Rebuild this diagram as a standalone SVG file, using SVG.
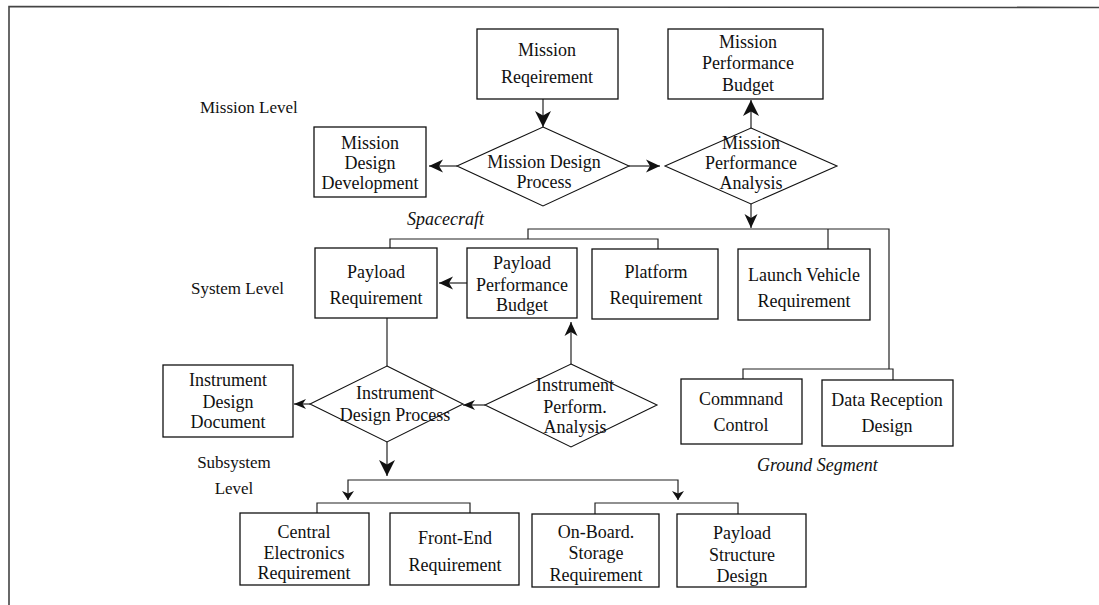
<svg xmlns="http://www.w3.org/2000/svg" width="1099" height="605" viewBox="0 0 1099 605">
  <style>
    .box { fill: #ffffff; stroke: #111; stroke-width: 1.3; }
    .dia { fill: #ffffff; stroke: #111; stroke-width: 1.1; }
    .t { font-family: "Liberation Serif", "Times New Roman", serif; font-size: 18px; fill: #111; text-anchor: middle; }
    .lbl { font-family: "Liberation Serif", "Times New Roman", serif; font-size: 17px; fill: #111; }
    .it { font-family: "Liberation Serif", "Times New Roman", serif; font-size: 18px; font-style: italic; fill: #111; }
    .ln { fill: none; stroke: #222; stroke-width: 1.2; }
    .frame { fill: none; stroke: #444; stroke-width: 1.6; }
  </style>
  <defs>
    <marker id="ah-lg" markerUnits="userSpaceOnUse" markerWidth="18" markerHeight="18" refX="16" refY="8" orient="auto" overflow="visible">
      <path d="M0,0 L16,8 L0,16 L4.5,8 Z" fill="#111"/>
    </marker>
    <marker id="ah-md" markerUnits="userSpaceOnUse" markerWidth="16" markerHeight="16" refX="14" refY="6.5" orient="auto" overflow="visible">
      <path d="M0,0 L14,6.5 L0,13 L4,6.5 Z" fill="#111"/>
    </marker>
    <marker id="ah-sm" markerUnits="userSpaceOnUse" markerWidth="14" markerHeight="14" refX="12" refY="5" orient="auto" overflow="visible">
      <path d="M0,0 L12,5 L0,10 L3.5,5 Z" fill="#111"/>
    </marker>
    <marker id="ah-xs" markerUnits="userSpaceOnUse" markerWidth="12" markerHeight="14" refX="9" refY="6" orient="auto" overflow="visible">
      <path d="M0,0 L9,6 L0,12 L2.5,6 Z" fill="#111"/>
    </marker>
  </defs>

  <rect width="1099" height="605" fill="#ffffff"/>

  <!-- page frame (top and left edges) -->
  <path class="frame" d="M9,605 L9,6.5 L1099,7.5"/>

  <!-- level labels -->
  <text class="lbl" x="200" y="113">Mission Level</text>
  <text class="lbl" x="191" y="294">System Level</text>
  <text class="lbl" x="234" y="468" text-anchor="middle">Subsystem</text>
  <text class="lbl" x="234" y="494" text-anchor="middle">Level</text>
  <text class="it" x="407" y="225">Spacecraft</text>
  <text class="it" x="757" y="471">Ground Segment</text>

  <!-- connectors -->
  <g id="connectors">
    <path class="ln" d="M543,99 L543,127" marker-end="url(#ah-lg)"/>
    <path class="ln" d="M457,166 L429,166" marker-end="url(#ah-md)"/>
    <path class="ln" d="M629,166 L660,166" marker-end="url(#ah-md)"/>
    <path class="ln" d="M751,128 L751,100" marker-end="url(#ah-lg)"/>
    <path class="ln" d="M751,204 L751,228" marker-end="url(#ah-md)"/>
    <!-- spacecraft distribution bus -->
    <path class="ln" d="M528,239 L528,229 L889,229 L889,369"/>
    <path class="ln" d="M390,248 L390,239 L658,239 L658,249"/>
    <path class="ln" d="M828,229 L828,249"/>
    <!-- ground segment branch -->
    <path class="ln" d="M743,379 L743,369 L893,369 L893,380"/>
    <path class="ln" d="M467,283 L439,283" marker-end="url(#ah-md)"/>
    <path class="ln" d="M571,364 L571,322" marker-end="url(#ah-md)"/>
    <path class="ln" d="M387,318 L387,366"/>
    <path class="ln" d="M485,405 L463,405" marker-end="url(#ah-sm)"/>
    <path class="ln" d="M310,404 L294,404" marker-end="url(#ah-sm)"/>
    <path class="ln" d="M387,442 L387,476" marker-end="url(#ah-lg)"/>
    <!-- subsystem bus -->
    <path class="ln" d="M513,480 L348,480 L348,500" marker-end="url(#ah-xs)"/>
    <path class="ln" d="M513,480 L678,480 L678,500" marker-end="url(#ah-xs)"/>
    <path class="ln" d="M317,513 L317,503 L470,503 L470,513"/>
    <path class="ln" d="M595,514 L595,503 L738,503 L738,514"/>
  </g>

  <!-- mission level -->
  <g id="mission-requirement">
    <rect class="box" x="477" y="29" width="141" height="70"/>
    <text class="t" x="547" y="56">Mission</text>
    <text class="t" x="547" y="83">Reqeirement</text>
  </g>
  <g id="mission-performance-budget">
    <rect class="box" x="668" y="29" width="155" height="70"/>
    <text class="t" x="748" y="48">Mission</text>
    <text class="t" x="748" y="69">Performance</text>
    <text class="t" x="748" y="91">Budget</text>
  </g>
  <g id="mission-design-development">
    <rect class="box" x="314" y="127" width="112" height="70"/>
    <text class="t" x="370" y="149">Mission</text>
    <text class="t" x="370" y="169">Design</text>
    <text class="t" x="370" y="189">Development</text>
  </g>
  <g id="mission-design-process">
    <polygon class="dia" points="543,127 629,166 543,206 457,166"/>
    <text class="t" x="544" y="168">Mission Design</text>
    <text class="t" x="544" y="188">Process</text>
  </g>
  <g id="mission-performance-analysis">
    <polygon class="dia" points="751,128 837,166 751,204 665,166"/>
    <text class="t" x="751" y="149">Mission</text>
    <text class="t" x="751" y="169">Performance</text>
    <text class="t" x="751" y="189">Analysis</text>
  </g>

  <!-- system level -->
  <g id="payload-requirement">
    <rect class="box" x="315" y="248" width="122" height="70"/>
    <text class="t" x="376" y="278">Payload</text>
    <text class="t" x="376" y="304">Requirement</text>
  </g>
  <g id="payload-performance-budget">
    <rect class="box" x="467" y="248" width="110" height="70"/>
    <text class="t" x="522" y="269">Payload</text>
    <text class="t" x="522" y="291">Performance</text>
    <text class="t" x="522" y="311">Budget</text>
  </g>
  <g id="platform-requirement">
    <rect class="box" x="592" y="249" width="126" height="70"/>
    <text class="t" x="656" y="278">Platform</text>
    <text class="t" x="656" y="304">Requirement</text>
  </g>
  <g id="launch-vehicle-requirement">
    <rect class="box" x="738" y="249" width="132" height="71"/>
    <text class="t" x="804" y="281">Launch Vehicle</text>
    <text class="t" x="804" y="307">Requirement</text>
  </g>

  <!-- instrument level -->
  <g id="instrument-design-document">
    <rect class="box" x="163" y="365" width="130" height="72"/>
    <text class="t" x="228" y="386">Instrument</text>
    <text class="t" x="228" y="408">Design</text>
    <text class="t" x="228" y="428">Document</text>
  </g>
  <g id="instrument-design-process">
    <polygon class="dia" points="387,366 463,404 387,442 310,404"/>
    <text class="t" x="395" y="399">Instrument</text>
    <text class="t" x="395" y="421">Design Process</text>
  </g>
  <g id="instrument-perform-analysis">
    <polygon class="dia" points="571,364 657,405 571,447 485,405"/>
    <text class="t" x="575" y="391">Instrument</text>
    <text class="t" x="575" y="413">Perform.</text>
    <text class="t" x="575" y="433">Analysis</text>
  </g>

  <!-- ground segment -->
  <g id="command-control">
    <rect class="box" x="681" y="379" width="121" height="65"/>
    <text class="t" x="741" y="405">Commnand</text>
    <text class="t" x="741" y="431">Control</text>
  </g>
  <g id="data-reception-design">
    <rect class="box" x="822" y="380" width="131" height="66"/>
    <text class="t" x="887" y="406">Data Reception</text>
    <text class="t" x="887" y="432">Design</text>
  </g>

  <!-- subsystem level -->
  <g id="central-electronics-requirement">
    <rect class="box" x="240" y="513" width="129" height="72"/>
    <text class="t" x="304" y="538">Central</text>
    <text class="t" x="304" y="559">Electronics</text>
    <text class="t" x="304" y="579">Requirement</text>
  </g>
  <g id="front-end-requirement">
    <rect class="box" x="390" y="513" width="129" height="72"/>
    <text class="t" x="455" y="544">Front-End</text>
    <text class="t" x="455" y="571">Requirement</text>
  </g>
  <g id="on-board-storage-requirement">
    <rect class="box" x="532" y="514" width="127" height="73"/>
    <text class="t" x="596" y="538">On-Board.</text>
    <text class="t" x="596" y="559">Storage</text>
    <text class="t" x="596" y="581">Requirement</text>
  </g>
  <g id="payload-structure-design">
    <rect class="box" x="677" y="514" width="129" height="73"/>
    <text class="t" x="742" y="539">Payload</text>
    <text class="t" x="742" y="561">Structure</text>
    <text class="t" x="742" y="582">Design</text>
  </g>
</svg>
